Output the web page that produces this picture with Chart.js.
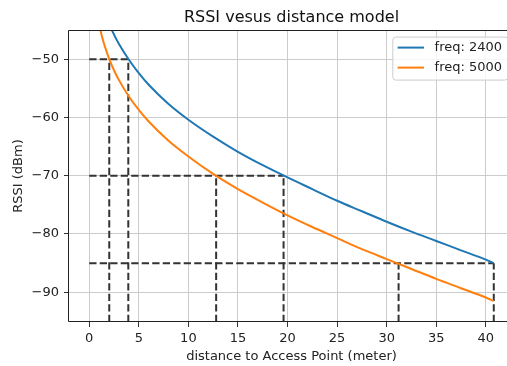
<!DOCTYPE html>
<html>
<head>
<meta charset="utf-8">
<script src="https://cdn.jsdelivr.net/npm/chart.js@4"></script>
<style>
  html, body { margin: 0; padding: 0; background: #fff; overflow: hidden; }
  canvas { display: block; }
</style>
</head>
<body>
<canvas id="rssi" width="524" height="366"></canvas>
<script>
// distance (meter) and RSSI
const distances = [1, 1.25, 1.5, 2, 2.5, 3, 4, 5, 6, 8, 10, 12.5, 15, 17.5, 20, 22.5, 25, 27.5, 30, 32.5, 35, 37.5, 40, 40.8];
const rssi2400 = [-36.9, -39.0, -40.7, -43.8, -45.8, -47.4, -50.1, -52.4, -54.4, -57.7, -60.4, -63.3, -65.9, -68.2, -70.3, -72.3, -74.3, -76.1, -77.9, -79.6, -81.2, -82.8, -84.4, -85.0];
const rssi5000 = [-43.9, -45.9, -47.4, -49.9, -51.9, -53.6, -56.4, -58.7, -60.7, -64.0, -66.7, -69.7, -72.3, -74.6, -76.8, -78.8, -80.7, -82.6, -84.3, -86.0, -87.7, -89.3, -90.9, -91.5];

// RSSI thresholds and the distances where each curve reaches them
const levels = [-50, -70, -85];
const cross2400 = [3.94, 19.6, 40.8];
const cross5000 = [2.02, 12.8, 31.2];

const xTicks = [0, 5, 10, 15, 20, 25, 30, 35, 40];
const yTicks = [-90, -80, -70, -60, -50];
const xRange = [-2.04, 42.84];
const yRange = [-95.1, -45];

const FONT = '"DejaVu Sans", sans-serif';

function curve(label, ys, color) {
  return {
    label: label,
    data: distances.map((d, i) => ({ x: d, y: ys[i] })),
    borderColor: color,
    backgroundColor: color,
    borderWidth: 2,
    pointRadius: 0,
    showLine: true,
    cubicInterpolationMode: 'monotone',
    clip: 0,
    inLegend: true
  };
}

function dashed(points) {
  return {
    label: '',
    data: points,
    borderColor: '#333',
    borderWidth: 2,
    borderDash: [7.3, 3.2],
    pointRadius: 0,
    showLine: true,
    clip: 0,
    inLegend: false
  };
}

const guides = [];
levels.forEach((lv, i) => {
  const far = Math.max(cross2400[i], cross5000[i]);
  guides.push(dashed([{ x: 0, y: lv }, { x: far, y: lv }]));
  guides.push(dashed([{ x: cross5000[i], y: yRange[0] }, { x: cross5000[i], y: lv }]));
  guides.push(dashed([{ x: cross2400[i], y: yRange[0] }, { x: cross2400[i], y: lv }]));
});

// axes frame + matplotlib style legend in the upper right corner
const frameAndLegend = {
  id: 'frameAndLegend',
  afterDraw(chart) {
    const { ctx, chartArea: a } = chart;
    ctx.save();
    ctx.strokeStyle = '#222';
    ctx.lineWidth = 1;
    const l = Math.round(a.left) - 0.5, t = Math.round(a.top) + 0.5;
    const r = Math.round(a.right) - 0.5, b = Math.round(a.bottom) - 0.5;
    ctx.beginPath();
    ctx.moveTo(l, b); ctx.lineTo(l, t); ctx.lineTo(r, t); ctx.lineTo(r, b); ctx.lineTo(l, b);
    ctx.stroke();

    const items = chart.data.datasets.filter(d => d.inLegend);
    ctx.font = '13px ' + FONT;
    const tw = Math.max(...items.map(d => ctx.measureText(d.label).width));
    const boxRight = a.right - 6.6;
    const textX = boxRight - 5.3 - tw;
    const lineEnd = textX - 10.6;
    const lineStart = lineEnd - 26.4;
    const boxLeft = lineStart - 5.3;
    const boxTop = a.top + 6.6;
    const rowH = 20;
    const boxH = 2 * rowH + 3;
    ctx.beginPath();
    ctx.roundRect(boxLeft + 0.5, boxTop + 0.5, boxRight - boxLeft, boxH, 3);
    ctx.fillStyle = 'rgba(255,255,255,0.8)';
    ctx.fill();
    ctx.strokeStyle = '#cccccc';
    ctx.stroke();
    items.forEach((d, i) => {
      const y = boxTop + 11 + i * rowH;
      ctx.strokeStyle = d.borderColor;
      ctx.lineWidth = 2;
      ctx.beginPath();
      ctx.moveTo(lineStart, y);
      ctx.lineTo(lineEnd, y);
      ctx.stroke();
      ctx.fillStyle = '#222';
      ctx.textBaseline = 'middle';
      ctx.textAlign = 'left';
      ctx.fillText(d.label, textX, y + 0.5);
    });
    ctx.restore();
  }
};

const minus = v => (v < 0 ? '\u2212' + Math.abs(v) : String(v));

new Chart(document.getElementById('rssi'), {
  type: 'scatter',
  data: {
    datasets: [
      curve('freq: 2400', rssi2400, '#1f77b4'),
      curve('freq: 5000', rssi5000, '#ff7f0e')
    ].concat(guides)
  },
  options: {
    responsive: false,
    animation: false,
    layout: { padding: { left: 0, right: 10, top: 0, bottom: 0 } },
    plugins: {
      legend: { display: false },
      tooltip: { enabled: false },
      title: {
        display: true,
        fullSize: false,
        text: 'RSSI vesus distance model',
        color: '#111',
        font: { family: FONT, size: 16, weight: 'normal' },
        padding: { top: 8.6, bottom: 2.2 }
      }
    },
    scales: {
      x: {
        type: 'linear',
        min: xRange[0],
        max: xRange[1],
        afterBuildTicks: s => { s.ticks = xTicks.map(v => ({ value: v })); },
        afterFit: s => { s.height = 44; },
        grid: { color: '#cccccc', lineWidth: 1, tickColor: '#333', tickLength: 5 },
        border: { display: false },
        ticks: { color: '#222', font: { family: FONT, size: 13 }, padding: 4, maxRotation: 0, callback: v => minus(v) },
        title: {
          display: true,
          text: 'distance to Access Point (meter)',
          color: '#222',
          font: { family: FONT, size: 13 },
          padding: { top: 0, bottom: 2 }
        }
      },
      y: {
        type: 'linear',
        min: yRange[0],
        max: yRange[1],
        afterBuildTicks: s => { s.ticks = yTicks.map(v => ({ value: v })); },
        afterFit: s => { s.width = 69; },
        grid: { color: '#cccccc', lineWidth: 1, tickColor: '#333', tickLength: 5 },
        border: { display: false },
        ticks: { color: '#222', font: { family: FONT, size: 13 }, padding: 5, callback: v => minus(v) },
        title: {
          display: true,
          text: 'RSSI (dBm)',
          color: '#222',
          font: { family: FONT, size: 13 },
          padding: { top: 10.5, bottom: 0 }
        }
      }
    }
  },
  plugins: [frameAndLegend]
});
</script>
</body>
</html>
